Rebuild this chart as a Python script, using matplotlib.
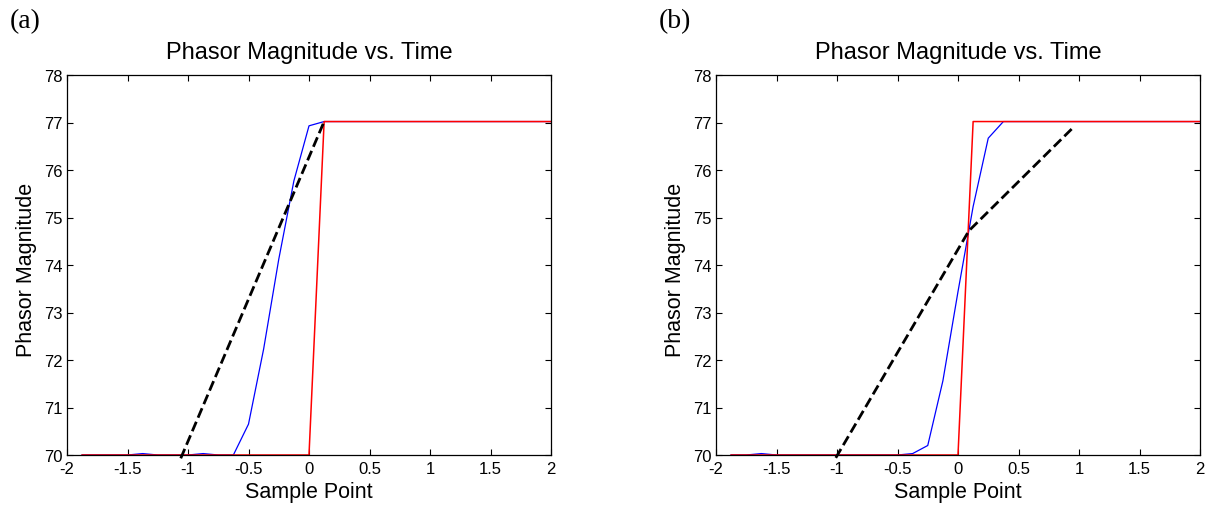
#!/usr/bin/env python3

import matplotlib
matplotlib.use('Agg')
import matplotlib.pyplot as plt

# Sample points shared by both panels
sample_x = [-1.875, -1.75, -1.625, -1.5, -1.375, -1.25, -1.125, -1.0,
            -0.875, -0.75, -0.625, -0.5, -0.375, -0.25, -0.125, 0.0,
            0.125, 0.25, 0.375, 0.5, 0.625, 0.75, 0.875, 1.0,
            1.125, 1.25, 1.375, 1.5, 1.625, 1.75, 1.875, 2.0]

# Ideal step (red), identical in both panels
step_mag = [70.0] * 16 + [77.02] * 16

# Estimated magnitude (blue), panel (a) and (b)
est_a = [70.0, 70.0, 70.0, 70.0, 70.03, 70.0, 70.0, 70.0,
         70.03, 70.0, 70.0, 70.65, 72.23, 74.12, 75.77, 76.93,
         77.02, 77.02, 77.02, 77.02, 77.02, 77.02, 77.02, 77.02,
         77.02, 77.02, 77.02, 77.02, 77.02, 77.02, 77.02, 77.02]
est_b = [70.0, 70.0, 70.03, 70.0, 70.0, 70.0, 70.0, 70.0,
         70.0, 70.0, 70.0, 70.0, 70.03, 70.2, 71.56, 73.44,
         75.23, 76.67, 77.02, 77.02, 77.02, 77.02, 77.02, 77.02,
         77.02, 77.02, 77.02, 77.02, 77.02, 77.02, 77.02, 77.02]

# Dashed trend lines
trend_a_x = [-1.06, 0.125]
trend_a_y = [69.93, 77.02]
trend_b_x = [-1.01, 0.09, 0.954]
trend_b_y = [69.94, 74.72, 76.9]

panel_tags = ['(a)', '(b)']
xticks = [-2, -1.5, -1, -0.5, 0, 0.5, 1, 1.5, 2]
xtick_labels = ['-2', '-1.5', '-1', '-0.5', '0', '0.5', '1', '1.5', '2']
yticks = [70, 71, 72, 73, 74, 75, 76, 77, 78]

plt.rcParams['font.family'] = ['Liberation Sans', 'DejaVu Sans']

fig = plt.figure(figsize=(12.11, 5.06), dpi=100)
W, H = 1211.0, 506.0
lefts = [67, 716]

panels = [(est_a, trend_a_x, trend_a_y), (est_b, trend_b_x, trend_b_y)]
for i, (est, tx, ty) in enumerate(panels):
    ax = fig.add_axes([lefts[i] / W, 50 / H, 484 / W, 380 / H])
    ax.plot(sample_x, est, color='blue', lw=0.9)
    ax.plot(sample_x, step_mag, color='red', lw=1.1)
    ax.plot(tx, ty, color='black', lw=2.0, ls='--', clip_on=False)

    ax.set_xlim(-2, 2)
    ax.set_ylim(70, 78)
    ax.set_xticks(xticks)
    ax.set_xticklabels(xtick_labels)
    ax.set_yticks(yticks)
    ax.tick_params(direction='in', top=True, right=True, length=4,
                   width=0.8, labelsize=12)
    ax.tick_params(axis='x', pad=4)
    ax.tick_params(axis='y', pad=3)
    for s in ax.spines.values():
        s.set_linewidth(0.9)

    ax.set_title('Phasor Magnitude vs. Time', fontsize=17, pad=12)
    ax.set_xlabel('Sample Point', fontsize=15.5)
    ax.set_ylabel('Phasor Magnitude', fontsize=15.5)
    ax.xaxis.set_label_coords(0.5, -0.068)
    ax.yaxis.set_label_coords(-0.061, 0.49)

    fig.text((lefts[i] - 57) / W, 1 - 22 / H, panel_tags[i],
             family=['Liberation Serif', 'DejaVu Serif'], fontsize=20,
             va='center', ha='left')

fig.savefig('out.png', dpi=100)
